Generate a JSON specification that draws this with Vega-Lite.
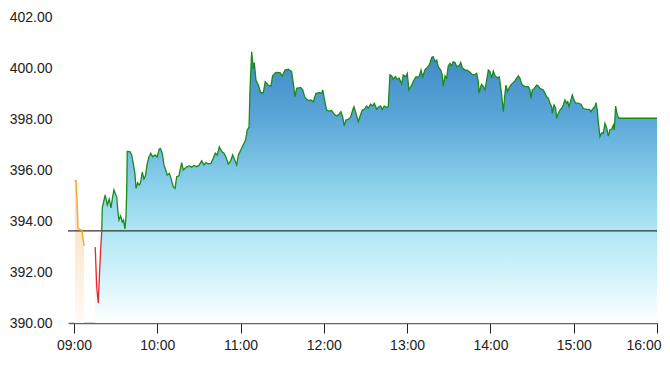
{
  "$schema": "https://vega.github.io/schema/vega-lite/v6.json",
  "width": 589,
  "height": 306,
  "autosize": "none",
  "padding": {"left": 68, "top": 17, "right": 13, "bottom": 48},
  "background": "white",
  "config": {
    "view": {"stroke": null},
    "font": "Liberation Sans",
    "axis": {"grid": false, "labelFont": "Liberation Sans", "labelFontSize": 14, "labelColor": "#222", "title": null}
  },
  "datasets": {
    "pre": [
      {"t": 0.7, "v": 395.53}, {"t": 1.4, "v": 395.61}, {"t": 2.2, "v": 394.82}, {"t": 2.9, "v": 393.73},
      {"t": 4.3, "v": 393.65}, {"t": 5.8, "v": 393.65}, {"t": 6.5, "v": 393.33}, {"t": 7.2, "v": 393.02}
    ],
    "session": [
      {"t": 15.3, "v": 392.98, "s": "r"}, {"t": 16.4, "v": 391.41, "s": "r"}, {"t": 17.5, "v": 390.78, "s": "r"},
      {"t": 18.2, "v": 391.69, "s": "r"}, {"t": 19.2, "v": 392.86, "s": "r"}, {"t": 20.0, "v": 393.59, "s": "r"},
      {"t": 20.0, "v": 393.59, "s": "g"}, {"t": 20.4, "v": 394.51, "s": "g"}, {"t": 21.8, "v": 394.86, "s": "g"},
      {"t": 22.5, "v": 395.02, "s": "g"}, {"t": 24.0, "v": 394.63, "s": "g"}, {"t": 25.4, "v": 394.86, "s": "g"},
      {"t": 26.7, "v": 394.51, "s": "g"}, {"t": 27.7, "v": 394.90, "s": "g"}, {"t": 28.8, "v": 395.22, "s": "g"},
      {"t": 29.9, "v": 395.06, "s": "g"}, {"t": 30.8, "v": 394.94, "s": "g"}, {"t": 31.7, "v": 394.35, "s": "g"},
      {"t": 32.4, "v": 394.04, "s": "g"}, {"t": 33.6, "v": 394.20, "s": "g"}, {"t": 34.8, "v": 393.96, "s": "g"},
      {"t": 35.7, "v": 394.04, "s": "g"}, {"t": 36.7, "v": 393.69, "s": "g"}, {"t": 37.5, "v": 394.16, "s": "g"},
      {"t": 38.0, "v": 395.22, "s": "g"}, {"t": 38.4, "v": 396.73, "s": "g"}, {"t": 40.3, "v": 396.72, "s": "g"},
      {"t": 41.6, "v": 396.59, "s": "g"}, {"t": 42.7, "v": 396.26, "s": "g"}, {"t": 43.9, "v": 395.87, "s": "g"},
      {"t": 44.7, "v": 395.28, "s": "g"}, {"t": 45.9, "v": 395.50, "s": "g"}, {"t": 47.0, "v": 395.41, "s": "g"},
      {"t": 47.9, "v": 395.49, "s": "g"}, {"t": 49.2, "v": 395.92, "s": "g"}, {"t": 50.4, "v": 395.65, "s": "g"},
      {"t": 51.5, "v": 395.77, "s": "g"}, {"t": 52.6, "v": 396.20, "s": "g"}, {"t": 53.8, "v": 396.47, "s": "g"},
      {"t": 55.3, "v": 396.66, "s": "g"}, {"t": 56.7, "v": 396.52, "s": "g"}, {"t": 58.4, "v": 396.59, "s": "g"},
      {"t": 60.0, "v": 396.51, "s": "g"}, {"t": 61.4, "v": 396.82, "s": "g"}, {"t": 62.3, "v": 396.84, "s": "g"},
      {"t": 63.6, "v": 396.66, "s": "g"}, {"t": 64.8, "v": 396.20, "s": "g"}, {"t": 66.1, "v": 396.00, "s": "g"},
      {"t": 67.2, "v": 395.80, "s": "g"}, {"t": 68.7, "v": 395.87, "s": "g"}, {"t": 69.9, "v": 395.67, "s": "g"},
      {"t": 71.5, "v": 395.35, "s": "g"}, {"t": 72.8, "v": 395.28, "s": "g"}, {"t": 74.0, "v": 395.74, "s": "g"},
      {"t": 75.6, "v": 395.77, "s": "g"}, {"t": 77.6, "v": 396.29, "s": "g"}, {"t": 78.7, "v": 396.00, "s": "g"},
      {"t": 80.0, "v": 396.07, "s": "g"}, {"t": 81.6, "v": 396.13, "s": "g"}, {"t": 83.1, "v": 396.16, "s": "g"},
      {"t": 84.8, "v": 396.11, "s": "g"}, {"t": 86.4, "v": 396.18, "s": "g"}, {"t": 88.4, "v": 396.13, "s": "g"},
      {"t": 90.0, "v": 396.18, "s": "g"}, {"t": 92.0, "v": 396.36, "s": "g"}, {"t": 93.7, "v": 396.20, "s": "g"},
      {"t": 95.1, "v": 396.29, "s": "g"}, {"t": 96.7, "v": 396.24, "s": "g"}, {"t": 98.7, "v": 396.26, "s": "g"},
      {"t": 100.3, "v": 396.46, "s": "g"}, {"t": 101.8, "v": 396.66, "s": "g"}, {"t": 103.2, "v": 396.59, "s": "g"},
      {"t": 104.7, "v": 396.91, "s": "g"}, {"t": 106.4, "v": 396.72, "s": "g"}, {"t": 108.1, "v": 396.66, "s": "g"},
      {"t": 109.5, "v": 396.50, "s": "g"}, {"t": 111.2, "v": 396.24, "s": "g"}, {"t": 112.9, "v": 396.36, "s": "g"},
      {"t": 114.3, "v": 396.59, "s": "g"}, {"t": 115.8, "v": 396.39, "s": "g"}, {"t": 117.2, "v": 396.20, "s": "g"},
      {"t": 118.4, "v": 396.59, "s": "g"}, {"t": 119.6, "v": 396.72, "s": "g"}, {"t": 120.8, "v": 396.85, "s": "g"},
      {"t": 122.5, "v": 397.05, "s": "g"}, {"t": 123.7, "v": 397.18, "s": "g"}, {"t": 124.8, "v": 397.57, "s": "g"},
      {"t": 126.1, "v": 397.67, "s": "g"}, {"t": 126.8, "v": 399.14, "s": "g"}, {"t": 128.0, "v": 400.64, "s": "g"},
      {"t": 129.2, "v": 399.96, "s": "g"}, {"t": 129.9, "v": 400.21, "s": "g"}, {"t": 131.1, "v": 399.53, "s": "g"},
      {"t": 132.8, "v": 399.33, "s": "g"}, {"t": 134.5, "v": 399.03, "s": "g"}, {"t": 136.4, "v": 399.03, "s": "g"},
      {"t": 137.8, "v": 399.46, "s": "g"}, {"t": 140.0, "v": 399.33, "s": "g"}, {"t": 141.9, "v": 399.29, "s": "g"},
      {"t": 143.1, "v": 399.69, "s": "g"}, {"t": 145.5, "v": 399.83, "s": "g"}, {"t": 148.4, "v": 399.82, "s": "g"},
      {"t": 150.1, "v": 399.69, "s": "g"}, {"t": 152.0, "v": 399.92, "s": "g"}, {"t": 154.4, "v": 399.95, "s": "g"},
      {"t": 156.8, "v": 399.86, "s": "g"}, {"t": 158.0, "v": 399.40, "s": "g"}, {"t": 159.2, "v": 398.88, "s": "g"},
      {"t": 160.4, "v": 399.20, "s": "g"}, {"t": 163.3, "v": 399.24, "s": "g"}, {"t": 164.8, "v": 399.14, "s": "g"},
      {"t": 166.2, "v": 398.87, "s": "g"}, {"t": 167.6, "v": 398.77, "s": "g"}, {"t": 169.1, "v": 398.72, "s": "g"},
      {"t": 170.5, "v": 398.75, "s": "g"}, {"t": 172.4, "v": 398.68, "s": "g"}, {"t": 174.3, "v": 399.01, "s": "g"},
      {"t": 176.7, "v": 399.03, "s": "g"}, {"t": 178.4, "v": 399.01, "s": "g"}, {"t": 179.2, "v": 399.14, "s": "g"},
      {"t": 180.3, "v": 398.81, "s": "g"}, {"t": 182.0, "v": 398.35, "s": "g"}, {"t": 183.9, "v": 398.31, "s": "g"},
      {"t": 185.6, "v": 398.33, "s": "g"}, {"t": 187.3, "v": 398.20, "s": "g"}, {"t": 189.2, "v": 398.12, "s": "g"},
      {"t": 190.9, "v": 398.18, "s": "g"}, {"t": 192.3, "v": 398.29, "s": "g"}, {"t": 193.6, "v": 398.07, "s": "g"},
      {"t": 194.7, "v": 397.73, "s": "g"}, {"t": 195.9, "v": 397.96, "s": "g"}, {"t": 197.6, "v": 397.99, "s": "g"},
      {"t": 199.3, "v": 398.07, "s": "g"}, {"t": 200.8, "v": 398.35, "s": "g"}, {"t": 201.7, "v": 398.48, "s": "g"},
      {"t": 203.2, "v": 398.22, "s": "g"}, {"t": 204.8, "v": 397.89, "s": "g"}, {"t": 206.0, "v": 398.09, "s": "g"},
      {"t": 207.7, "v": 398.35, "s": "g"}, {"t": 209.1, "v": 398.38, "s": "g"}, {"t": 210.9, "v": 398.51, "s": "g"},
      {"t": 212.0, "v": 398.42, "s": "g"}, {"t": 213.7, "v": 398.59, "s": "g"}, {"t": 215.2, "v": 398.51, "s": "g"},
      {"t": 216.3, "v": 398.62, "s": "g"}, {"t": 218.1, "v": 398.38, "s": "g"}, {"t": 219.2, "v": 398.46, "s": "g"},
      {"t": 220.9, "v": 398.51, "s": "g"}, {"t": 222.1, "v": 398.38, "s": "g"}, {"t": 223.5, "v": 398.51, "s": "g"},
      {"t": 225.3, "v": 398.46, "s": "g"}, {"t": 226.4, "v": 398.48, "s": "g"}, {"t": 227.6, "v": 399.73, "s": "g"},
      {"t": 228.9, "v": 399.69, "s": "g"}, {"t": 230.0, "v": 399.56, "s": "g"}, {"t": 231.5, "v": 399.66, "s": "g"},
      {"t": 232.9, "v": 399.56, "s": "g"}, {"t": 234.3, "v": 399.60, "s": "g"}, {"t": 236.1, "v": 399.37, "s": "g"},
      {"t": 237.2, "v": 399.73, "s": "g"}, {"t": 239.0, "v": 399.66, "s": "g"}, {"t": 240.1, "v": 399.79, "s": "g"},
      {"t": 241.3, "v": 399.14, "s": "g"}, {"t": 243.3, "v": 399.33, "s": "g"}, {"t": 244.9, "v": 399.53, "s": "g"},
      {"t": 246.4, "v": 399.66, "s": "g"}, {"t": 247.6, "v": 399.64, "s": "g"}, {"t": 248.8, "v": 399.69, "s": "g"},
      {"t": 250.0, "v": 399.92, "s": "g"}, {"t": 251.2, "v": 399.65, "s": "g"}, {"t": 252.9, "v": 399.94, "s": "g"},
      {"t": 254.5, "v": 400.02, "s": "g"}, {"t": 256.0, "v": 400.12, "s": "g"}, {"t": 257.7, "v": 400.41, "s": "g"},
      {"t": 258.8, "v": 400.44, "s": "g"}, {"t": 260.1, "v": 400.25, "s": "g"}, {"t": 261.3, "v": 400.31, "s": "g"},
      {"t": 262.4, "v": 400.05, "s": "g"}, {"t": 264.2, "v": 399.92, "s": "g"}, {"t": 265.3, "v": 399.73, "s": "g"},
      {"t": 266.0, "v": 399.29, "s": "g"}, {"t": 267.3, "v": 399.69, "s": "g"}, {"t": 268.5, "v": 399.60, "s": "g"},
      {"t": 269.6, "v": 400.08, "s": "g"}, {"t": 270.9, "v": 400.18, "s": "g"}, {"t": 272.1, "v": 400.09, "s": "g"},
      {"t": 273.2, "v": 400.25, "s": "g"}, {"t": 274.5, "v": 400.22, "s": "g"}, {"t": 275.7, "v": 400.05, "s": "g"},
      {"t": 277.6, "v": 400.09, "s": "g"}, {"t": 278.6, "v": 400.22, "s": "g"}, {"t": 279.7, "v": 400.01, "s": "g"},
      {"t": 281.7, "v": 399.92, "s": "g"}, {"t": 283.3, "v": 399.92, "s": "g"}, {"t": 285.3, "v": 399.83, "s": "g"},
      {"t": 287.2, "v": 399.73, "s": "g"}, {"t": 288.9, "v": 399.75, "s": "g"}, {"t": 290.1, "v": 399.79, "s": "g"},
      {"t": 291.3, "v": 399.46, "s": "g"}, {"t": 291.8, "v": 399.01, "s": "g"}, {"t": 293.0, "v": 399.27, "s": "g"},
      {"t": 293.7, "v": 399.36, "s": "g"}, {"t": 294.9, "v": 399.27, "s": "g"}, {"t": 296.1, "v": 399.14, "s": "g"},
      {"t": 297.3, "v": 399.53, "s": "g"}, {"t": 298.5, "v": 399.92, "s": "g"}, {"t": 299.7, "v": 399.86, "s": "g"},
      {"t": 300.9, "v": 399.60, "s": "g"}, {"t": 302.1, "v": 399.88, "s": "g"}, {"t": 303.3, "v": 399.70, "s": "g"},
      {"t": 304.9, "v": 399.62, "s": "g"}, {"t": 306.4, "v": 399.65, "s": "g"}, {"t": 307.3, "v": 399.29, "s": "g"},
      {"t": 308.1, "v": 398.94, "s": "g"}, {"t": 309.3, "v": 398.29, "s": "g"}, {"t": 310.5, "v": 399.01, "s": "g"},
      {"t": 311.2, "v": 399.33, "s": "g"}, {"t": 312.4, "v": 399.07, "s": "g"}, {"t": 313.6, "v": 399.24, "s": "g"},
      {"t": 315.3, "v": 399.37, "s": "g"}, {"t": 317.2, "v": 399.46, "s": "g"}, {"t": 318.9, "v": 399.60, "s": "g"},
      {"t": 320.1, "v": 399.69, "s": "g"}, {"t": 321.3, "v": 399.60, "s": "g"}, {"t": 322.0, "v": 399.46, "s": "g"},
      {"t": 323.0, "v": 399.33, "s": "g"}, {"t": 324.9, "v": 399.27, "s": "g"}, {"t": 327.3, "v": 399.27, "s": "g"},
      {"t": 328.5, "v": 399.14, "s": "g"}, {"t": 329.2, "v": 398.81, "s": "g"}, {"t": 330.2, "v": 399.14, "s": "g"},
      {"t": 331.6, "v": 399.20, "s": "g"}, {"t": 333.3, "v": 399.33, "s": "g"}, {"t": 334.5, "v": 399.29, "s": "g"},
      {"t": 335.7, "v": 399.20, "s": "g"}, {"t": 338.1, "v": 399.14, "s": "g"}, {"t": 339.3, "v": 399.01, "s": "g"},
      {"t": 340.5, "v": 398.87, "s": "g"}, {"t": 341.7, "v": 398.81, "s": "g"}, {"t": 342.9, "v": 398.62, "s": "g"},
      {"t": 344.1, "v": 398.48, "s": "g"}, {"t": 344.6, "v": 398.22, "s": "g"}, {"t": 345.8, "v": 398.55, "s": "g"},
      {"t": 347.0, "v": 398.42, "s": "g"}, {"t": 347.7, "v": 398.03, "s": "g"}, {"t": 348.9, "v": 398.22, "s": "g"},
      {"t": 350.1, "v": 398.35, "s": "g"}, {"t": 351.3, "v": 398.42, "s": "g"}, {"t": 352.5, "v": 398.55, "s": "g"},
      {"t": 353.7, "v": 398.75, "s": "g"}, {"t": 354.9, "v": 398.62, "s": "g"}, {"t": 355.7, "v": 398.68, "s": "g"},
      {"t": 356.6, "v": 398.48, "s": "g"}, {"t": 358.0, "v": 398.75, "s": "g"}, {"t": 359.0, "v": 398.94, "s": "g"},
      {"t": 360.2, "v": 398.75, "s": "g"}, {"t": 361.4, "v": 398.62, "s": "g"}, {"t": 363.3, "v": 398.62, "s": "g"},
      {"t": 365.2, "v": 398.58, "s": "g"}, {"t": 366.9, "v": 398.41, "s": "g"}, {"t": 369.3, "v": 398.38, "s": "g"},
      {"t": 371.2, "v": 398.38, "s": "g"}, {"t": 372.4, "v": 398.29, "s": "g"}, {"t": 374.1, "v": 398.42, "s": "g"},
      {"t": 375.3, "v": 398.48, "s": "g"}, {"t": 376.0, "v": 398.64, "s": "g"}, {"t": 377.0, "v": 398.35, "s": "g"},
      {"t": 377.7, "v": 397.89, "s": "g"}, {"t": 378.9, "v": 397.31, "s": "g"}, {"t": 380.2, "v": 397.46, "s": "g"},
      {"t": 381.3, "v": 397.44, "s": "g"}, {"t": 382.5, "v": 397.83, "s": "g"}, {"t": 383.8, "v": 397.64, "s": "g"},
      {"t": 384.9, "v": 397.33, "s": "g"}, {"t": 386.1, "v": 397.57, "s": "g"}, {"t": 387.4, "v": 397.60, "s": "g"},
      {"t": 388.5, "v": 397.76, "s": "g"}, {"t": 389.2, "v": 397.57, "s": "g"}, {"t": 390.2, "v": 398.51, "s": "g"},
      {"t": 391.4, "v": 398.16, "s": "g"}, {"t": 392.6, "v": 398.03, "s": "g"}, {"t": 420.0, "v": 398.03, "s": "g"}
    ]
  },
  "layer": [
    {
      "data": {"name": "pre"},
      "mark": {
        "type": "area", "opacity": 1,
        "fill": {"gradient": "linear", "x1": 0, "y1": 0, "x2": 0, "y2": 1,
          "stops": [{"offset": 0, "color": "#fcdcb8"}, {"offset": 0.6, "color": "#fdedda"}, {"offset": 1, "color": "#fffbf7"}]}
      },
      "encoding": {
        "x": {"field": "t", "type": "quantitative", "scale": {"domain": [-4.3, 420], "nice": false, "zero": false},
          "axis": {"values": [0, 60, 120, 180, 240, 300, 360, 420],
            "labelExpr": "(9 + datum.value/60 < 10 ? '0' : '') + (9 + datum.value/60) + ':00'",
            "labelFlush": true, "labelFlushOffset": 4, "domainColor": "#666", "domainWidth": 1.5,
            "tickColor": "#222", "tickSize": 10, "tickWidth": 1, "labelPadding": 5}},
        "y": {"field": "v", "type": "quantitative", "scale": {"domain": [390, 402], "nice": false, "zero": false},
          "axis": {"values": [390, 392, 394, 396, 398, 400, 402], "format": ".2f", "domain": false, "ticks": false, "labelPadding": 16}},
        "y2": {"datum": 390}
      }
    },
    {
      "data": {"name": "session"},
      "mark": {
        "type": "area", "opacity": 1,
        "fill": {"gradient": "linear", "x1": 0, "y1": 0, "x2": 0, "y2": 1,
          "stops": [{"offset": 0, "color": "#3f88c5"}, {"offset": 0.25, "color": "#5ba7d8"}, {"offset": 0.45, "color": "#82cae8"}, {"offset": 0.65, "color": "#ace5f4"}, {"offset": 0.85, "color": "#d8f5fb"}, {"offset": 1, "color": "#ffffff"}]}
      },
      "encoding": {
        "x": {"field": "t", "type": "quantitative"},
        "y": {"field": "v", "type": "quantitative"},
        "y2": {"datum": 390}
      }
    },
    {
      "data": {"values": [{}]},
      "mark": {"type": "rule", "color": "#333", "strokeWidth": 1.2},
      "encoding": {"y": {"datum": 393.61}}
    },
    {
      "data": {"name": "pre"},
      "mark": {"type": "line", "color": "#f5a623", "strokeWidth": 1.4},
      "encoding": {
        "x": {"field": "t", "type": "quantitative"},
        "y": {"field": "v", "type": "quantitative"}
      }
    },
    {
      "data": {"name": "session"},
      "mark": {"type": "line", "strokeWidth": 1.3},
      "encoding": {
        "x": {"field": "t", "type": "quantitative"},
        "y": {"field": "v", "type": "quantitative"},
        "color": {"field": "s", "type": "nominal", "scale": {"domain": ["r", "g"], "range": ["#e8262b", "#1a8a1a"]}, "legend": null}
      }
    }
  ]
}
